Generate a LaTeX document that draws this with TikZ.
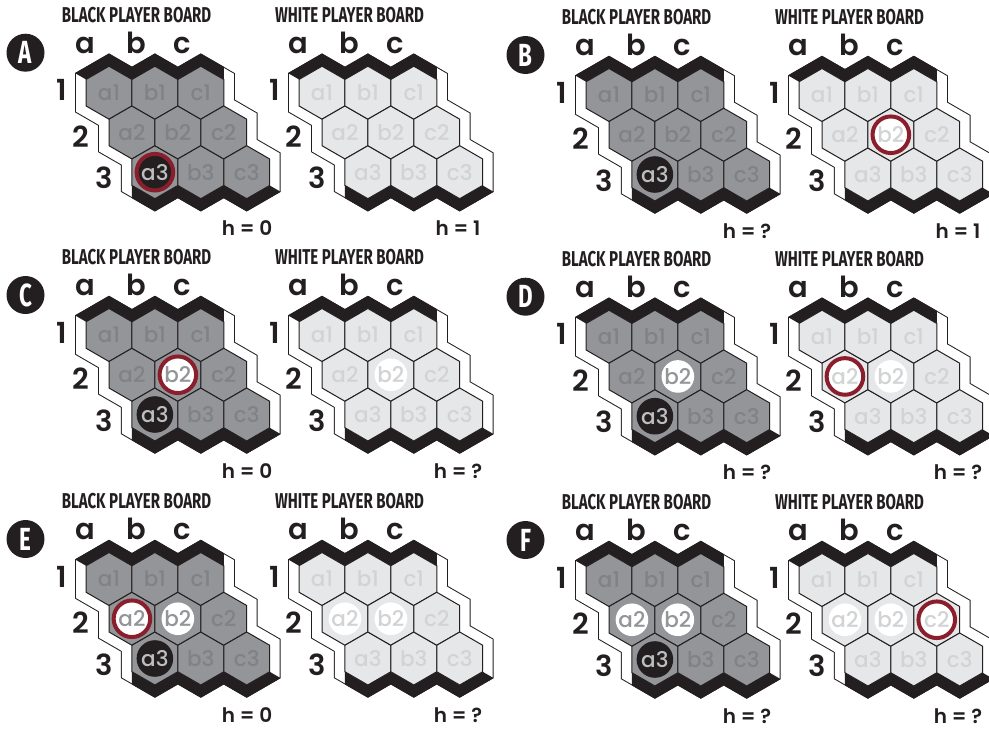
\documentclass[tikz,border=0pt]{standalone}
\usepackage{fontspec}
\setmainfont{Poppins}
\newfontfamily\labelfont{Poppins Medium}
\newfontfamily\axisfont{Poppins SemiBold}
\newfontfamily\titlefont[FakeStretch=0.7]{Fira Sans}
\usepackage{graphicx}
\usepackage{tikz}
\usetikzlibrary{positioning}
\usepackage{xcolor}

\definecolor{boardblack}{HTML}{231F20}
\definecolor{hexdark}{HTML}{939598}
\definecolor{hexdarktext}{HTML}{808285}
\definecolor{hexlight}{HTML}{E6E7E8}
\definecolor{hexlighttext}{HTML}{D1D3D4}
\definecolor{ringred}{HTML}{8B1E2D}
\definecolor{stonegrey}{HTML}{BCBEC0}

\tikzset{
    hexcell/.style={line width=1pt, draw=boardblack},
    celllabel/.style={font=\labelfont\fontsize{21.5}{21.5}\selectfont, inner sep=0pt},
    axislabel/.style={font=\axisfont\fontsize{29}{29}\selectfont, text=boardblack, anchor=base, inner sep=0pt},
    boardtitle/.style={font=\titlefont\bfseries\fontsize{21.5}{21.5}\selectfont, text=boardblack, inner sep=0pt},
    badge/.style={circle, fill=boardblack, text=white, minimum size=38pt, inner sep=0pt,
        font=\titlefont\bfseries\fontsize{32}{32}\selectfont},
    hlabel/.style={font=\axisfont\fontsize{20}{20}\selectfont, text=boardblack, anchor=base, inner sep=0pt},
    blackstone/.style={circle, fill=boardblack, minimum size=36.6pt, inner sep=0pt, text=stonegrey,
        font=\labelfont\fontsize{21.5}{21.5}\selectfont},
    whitestone/.style={circle, fill=white, minimum size=32.6pt, inner sep=0pt, text=hexdark,
        font=\labelfont\fontsize{21.5}{21.5}\selectfont},
    paletext/.style={text=hexlighttext},
    lastmove/.style={draw=ringred, line width=4pt, minimum size=36.6pt},
}

% #1 名字, #2 原点 (a1), #3 格子颜色, #4 格子文字颜色
\newcommand{\hexboard}[4]{%
    \begin{scope}[shift={#2}]
        % 白边
        \draw[line width=1pt, double=white, double distance=20pt, line join=miter, draw=boardblack]
            (-22.95,-13.25) -- (0,-26.5) -- (22.95,-13.25) -- (45.9,-26.5) -- (68.85,-13.25)
            -- (91.8,-26.5) -- (114.75,-13.25) -- (114.75,13.25) -- (137.7,26.5) -- (137.7,53)
            -- (160.65,66.25) -- (160.65,92.75) -- (137.7,106) -- (114.75,92.75) -- (91.8,106)
            -- (68.85,92.75) -- (45.9,106) -- (22.95,92.75) -- (22.95,66.25) -- (0,53)
            -- (0,26.5) -- (-22.95,13.25) -- cycle;
        % 黑边 (上, 下)
        \foreach \ang in {0,180} {
            \fill[boardblack, rotate around={\ang:(68.85,39.75)}]
                (-22.95,-13.25) -- (-33.95,-19.6) -- (0,-39.2) -- (22.95,-25.95) -- (45.9,-39.2)
                -- (68.85,-25.95) -- (91.8,-39.2) -- (114.75,-25.95) -- (114.75,-13.25)
                -- (91.8,-26.5) -- (68.85,-13.25) -- (45.9,-26.5) -- (22.95,-13.25) -- (0,-26.5) -- cycle;
        }
        % 格子
        \foreach \col/\i in {a/0,b/1,c/2} {
            \foreach \row in {1,2,3} {
                \coordinate (#1-\col\row-c) at ({45.9*\i+22.95*(\row-1)},{39.75*(\row-1)});
                \filldraw[hexcell, fill=#3] (#1-\col\row-c) +(90:26.5) -- +(30:26.5) -- +(-30:26.5)
                    -- +(-90:26.5) -- +(-150:26.5) -- +(150:26.5) -- cycle;
                \node[celllabel, text=#4] (#1-\col\row) at (#1-\col\row-c) {\col\row};
            }
        }
        % 坐标
        \node[axislabel] (#1-cola) at (-24,-39.5) {a};
        \node[axislabel] (#1-colb) at (27,-39.5) {b};
        \node[axislabel] (#1-colc) at (73,-39.5) {c};
        \node[axislabel] (#1-row1) at (-47,8) {1};
        \node[axislabel] (#1-row2) at (-28,54.5) {2};
        \node[axislabel] (#1-row3) at (-5,96) {3};
    \end{scope}
}

% #1 字母, #2 x, #3 y, #4 黑方 h, #5 白方 h
\newcommand{\hexpanel}[5]{%
    \node[badge] (badge#1) at ({#2-83.5},{#3-40}) {#1};
    \node[boardtitle] (title#1b) at ({#2+27.5},{#3-78}) {BLACK PLAYER BOARD};
    \node[boardtitle] (title#1w) at ({#2+240.5},{#3-78}) {WHITE PLAYER BOARD};
    \hexboard{#1b}{(#2,#3)}{hexdark}{hexdarktext}
    \hexboard{#1w}{({#2+213},#3)}{hexlight}{hexlighttext}
    \node[hlabel] (h#1b) at ({#2+138},{#3+143}) {h = #4};
    \node[hlabel] (h#1w) at ({#2+349},{#3+143}) {h = #5};
}

\begin{document}
\begin{tikzpicture}[x=1pt, y=-1pt]
    \useasboundingbox (0,0) rectangle (989,731);

    % 六个局面
    \hexpanel{A}{109}{92.7}{0}{1}
    \hexpanel{B}{609}{95}{?}{1}
    \hexpanel{C}{109}{335}{0}{?}
    \hexpanel{D}{609}{336.7}{?}{?}
    \hexpanel{E}{109}{579}{0}{?}
    \hexpanel{F}{609}{580}{?}{?}

    % 棋子
    \node[blackstone, lastmove] (Ab-a3s) at (Ab-a3) {a3};

    \node[blackstone] (Bb-a3s) at (Bb-a3) {a3};
    \node[whitestone, paletext, lastmove] (Bw-b2s) at (Bw-b2) {b2};

    \node[blackstone] (Cb-a3s) at (Cb-a3) {a3};
    \node[whitestone, lastmove] (Cb-b2s) at (Cb-b2) {b2};
    \node[whitestone, paletext] (Cw-b2s) at (Cw-b2) {b2};

    \node[blackstone] (Db-a3s) at (Db-a3) {a3};
    \node[whitestone] (Db-b2s) at (Db-b2) {b2};
    \node[whitestone, paletext, lastmove] (Dw-a2s) at (Dw-a2) {a2};
    \node[whitestone, paletext] (Dw-b2s) at (Dw-b2) {b2};

    \node[blackstone] (Eb-a3s) at (Eb-a3) {a3};
    \node[whitestone, lastmove] (Eb-a2s) at (Eb-a2) {a2};
    \node[whitestone] (Eb-b2s) at (Eb-b2) {b2};
    \node[whitestone, paletext] (Ew-a2s) at (Ew-a2) {a2};
    \node[whitestone, paletext] (Ew-b2s) at (Ew-b2) {b2};

    \node[blackstone] (Fb-a3s) at (Fb-a3) {a3};
    \node[whitestone] (Fb-a2s) at (Fb-a2) {a2};
    \node[whitestone] (Fb-b2s) at (Fb-b2) {b2};
    \node[whitestone, paletext] (Fw-a2s) at (Fw-a2) {a2};
    \node[whitestone, paletext] (Fw-b2s) at (Fw-b2) {b2};
    \node[whitestone, paletext, lastmove] (Fw-c2s) at (Fw-c2) {c2};
\end{tikzpicture}
\end{document}
